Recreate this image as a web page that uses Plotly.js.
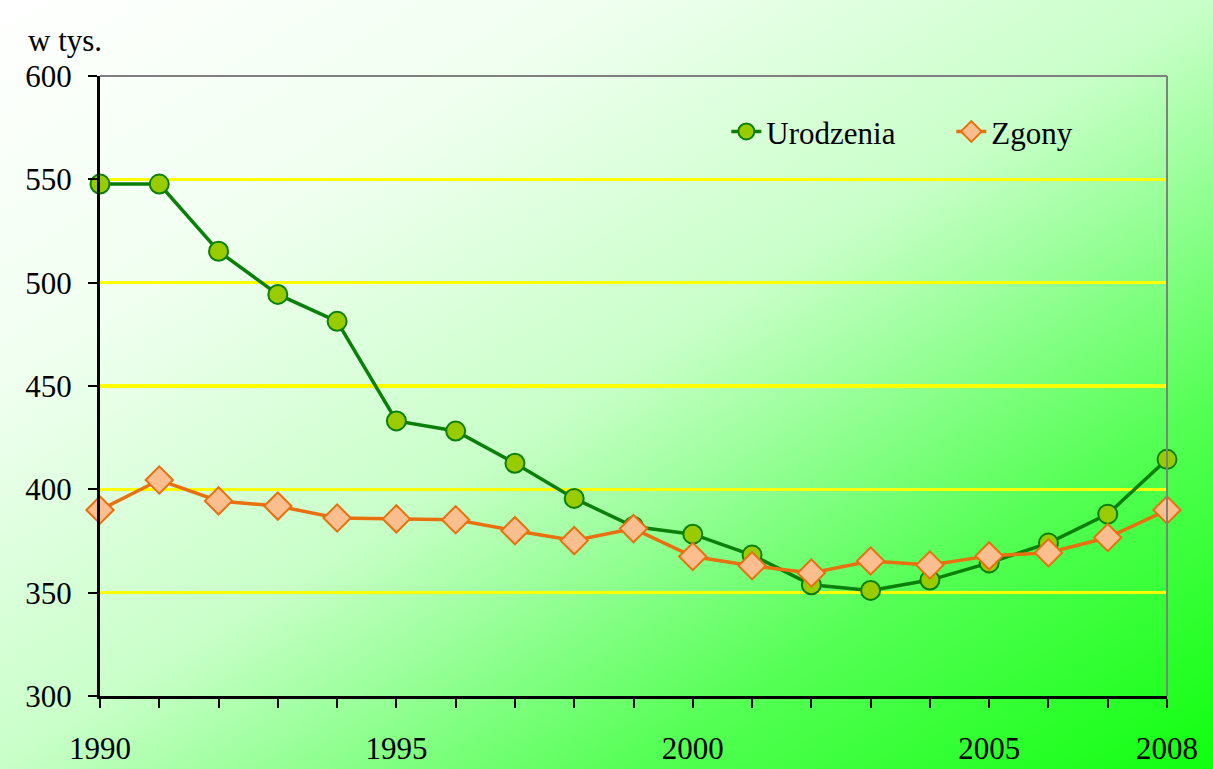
<!DOCTYPE html>
<html>
<head>
<meta charset="utf-8">
<script src="https://cdn.plot.ly/plotly-3.0.1.min.js"></script>
<style>
  html, body { margin: 0; padding: 0; }
  #chart {
    width: 1213px; height: 769px;
    background: linear-gradient(to bottom right, #ffffff 0%, #f0fff0 25%, #c8ffc8 50%, #55ff55 76%, #10ff10 100%);
  }
</style>
</head>
<body>
<div id="chart"></div>
<script>
const years = [1990,1991,1992,1993,1994,1995,1996,1997,1998,1999,2000,2001,2002,2003,2004,2005,2006,2007,2008];
const urodzenia = [547.7,547.7,515.2,494.3,481.3,433.1,428.2,412.6,395.6,382.0,378.3,368.2,353.8,351.1,356.1,364.4,374.0,388.0,414.5];
const zgony = [390.0,404.5,394.4,391.9,386.1,385.7,385.3,380.0,375.2,381.0,367.5,363.0,359.5,365.3,363.4,367.8,369.3,376.7,390.0];
const xTickVals = [1990,1995,2000,2005,2008];
const xTickText = ['1990','1995','2000','2005','2008'];
const yTickVals = [300,350,400,450,500,550,600];
const seriesNames = ['Urodzenia','Zgony'];
const unitLabel = 'w tys.';

const fam = 'Liberation Serif, Times New Roman, serif';
const tickFont = {family: fam, size: 31, color: '#000000'};

const traces = [
  {
    x: years, y: urodzenia, name: seriesNames[0], type: 'scatter', mode: 'lines+markers',
    line: {color: '#0a800a', width: 3.5},
    marker: {symbol: 'circle', size: 19, color: '#99cc00', line: {color: '#0a800a', width: 2}},
    cliponaxis: false
  },
  {
    x: years, y: zgony, name: seriesNames[1], type: 'scatter', mode: 'lines+markers',
    line: {color: '#e8700f', width: 3.5},
    marker: {symbol: 'diamond', size: 21, color: '#fbbf8f', line: {color: '#e8700f', width: 2}},
    cliponaxis: false
  }
];

const layout = {
  width: 1213, height: 769,
  margin: {l: 100, r: 46, t: 76, b: 73, autoexpand: false},
  paper_bgcolor: 'rgba(0,0,0,0)',
  plot_bgcolor: 'rgba(0,0,0,0)',
  font: tickFont,
  showlegend: true,
  legend: {
    orientation: 'h', x: 0.587, y: 0.91, xanchor: 'left', yanchor: 'middle',
    bgcolor: 'rgba(0,0,0,0)', font: {family: fam, size: 31, color: '#000'},
    entrywidth: 180, entrywidthmode: 'pixels', tracegroupgap: 0
  },
  xaxis: {
    range: [1990, 2008], tickmode: 'array', tickvals: xTickVals, ticktext: xTickText,
    showgrid: false, zeroline: false, showline: true, linecolor: '#000', linewidth: 3,
    ticks: 'outside', ticklen: 9, tickwidth: 2, tickcolor: '#000',
    ticklabelstandoff: 14,
    minor: {dtick: 1, tick0: 1990, ticks: 'outside', ticklen: 9, tickwidth: 2, tickcolor: '#000', showgrid: false},
    tickfont: tickFont
  },
  yaxis: {
    range: [300, 600], tickmode: 'array', tickvals: yTickVals,
    showgrid: true, gridcolor: '#ffff00', gridwidth: 3.5, zeroline: false,
    showline: true, linecolor: '#000', linewidth: 3,
    ticks: 'outside', ticklen: 9, tickwidth: 2, tickcolor: '#000',
    ticklabelstandoff: 10,
    tickfont: tickFont
  },
  shapes: [
    {type: 'line', xref: 'paper', yref: 'paper', x0: 0, x1: 1, y0: 1, y1: 1, line: {color: '#808080', width: 2}},
    {type: 'line', xref: 'paper', yref: 'paper', x0: 1, x1: 1, y0: 0, y1: 1, line: {color: '#808080', width: 2}}
  ],
  annotations: [
    {text: unitLabel, xref: 'paper', yref: 'paper', x: -0.069, y: 1.058, xanchor: 'left', yanchor: 'middle',
     showarrow: false, font: {family: fam, size: 31, color: '#000'}}
  ]
};

Plotly.newPlot('chart', traces, layout, {displayModeBar: false, staticPlot: true});
</script>
</body>
</html>
